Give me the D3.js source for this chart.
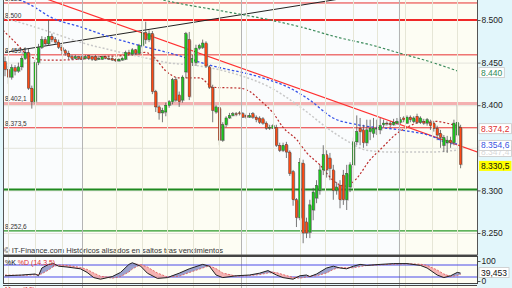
<!DOCTYPE html>
<html>
<head>
<meta charset="utf-8">
<script src="https://cdn.jsdelivr.net/npm/d3@7"></script>
<style>
body { margin: 0; background: #e2f6fb; }
svg { display: block; font-family: "Liberation Sans", Arial, sans-serif; }
</style>
</head>
<body>
<div id="chart"></div>
<script>
// candles, one per session slot
var opens = [8.451,8.442,8.433,8.444,8.440,8.445,8.455,8.462,8.420,8.404,
  8.450,8.468,8.477,8.472,8.481,8.477,8.474,8.468,8.464,8.461,
  8.457,8.455,8.457,8.457,8.455,8.458,8.457,8.457,8.454,8.454,
  8.457,8.455,8.455,8.454,8.452,8.453,8.454,8.462,8.460,8.465,
  8.461,8.470,8.485,8.477,8.484,8.416,8.398,8.391,8.392,8.400,
  8.404,8.430,8.412,8.406,8.439,8.477,8.450,8.450,8.467,8.468,
  8.473,8.445,8.421,8.392,8.397,8.359,8.377,8.385,8.388,8.390,
  8.391,8.390,8.388,8.386,8.390,8.386,8.385,8.384,8.379,8.373,
  8.373,8.374,8.353,8.347,8.354,8.345,8.322,8.289,8.268,8.332,
  8.263,8.251,8.277,8.291,8.300,8.324,8.342,8.338,8.324,8.300,
  8.306,8.318,8.289,8.304,8.330,8.357,8.373,8.371,8.356,8.369,
  8.367,8.372,8.371,8.377,8.379,8.379,8.377,8.379,8.380,8.385,
  8.379,8.386,8.381,8.387,8.380,8.381,8.379,8.380,8.379,8.373,
  8.367,8.353,8.356,8.359,8.356,8.365,8.374];
var highs = [8.457,8.446,8.448,8.447,8.450,8.458,8.468,8.466,8.423,8.453,
  8.472,8.481,8.480,8.500,8.484,8.480,8.477,8.471,8.466,8.464,
  8.459,8.459,8.458,8.458,8.459,8.459,8.458,8.459,8.458,8.458,
  8.458,8.458,8.457,8.455,8.455,8.457,8.464,8.465,8.467,8.466,
  8.472,8.500,8.498,8.488,8.487,8.418,8.400,8.397,8.403,8.406,
  8.432,8.433,8.416,8.435,8.486,8.486,8.459,8.471,8.472,8.477,
  8.475,8.447,8.424,8.400,8.399,8.380,8.387,8.391,8.392,8.392,
  8.393,8.392,8.390,8.391,8.392,8.388,8.387,8.386,8.381,8.377,
  8.378,8.377,8.356,8.356,8.357,8.347,8.324,8.291,8.338,8.336,
  8.268,8.289,8.303,8.312,8.330,8.353,8.347,8.344,8.330,8.310,
  8.312,8.324,8.330,8.333,8.362,8.388,8.385,8.377,8.383,8.383,
  8.385,8.383,8.385,8.383,8.381,8.381,8.384,8.385,8.386,8.387,
  8.388,8.388,8.387,8.390,8.387,8.384,8.385,8.383,8.381,8.376,
  8.371,8.365,8.364,8.363,8.383,8.400,8.377];
var lows = [8.434,8.425,8.430,8.435,8.438,8.441,8.453,8.418,8.396,8.401,
  8.447,8.466,8.470,8.470,8.474,8.472,8.466,8.460,8.458,8.454,
  8.453,8.454,8.453,8.453,8.454,8.453,8.452,8.452,8.453,8.453,
  8.454,8.453,8.452,8.451,8.451,8.452,8.453,8.459,8.458,8.459,
  8.459,8.467,8.472,8.474,8.413,8.392,8.383,8.380,8.387,8.397,
  8.401,8.404,8.398,8.403,8.432,8.406,8.446,8.446,8.465,8.466,
  8.444,8.419,8.380,8.390,8.353,8.357,8.374,8.384,8.387,8.387,
  8.388,8.385,8.384,8.385,8.384,8.380,8.378,8.377,8.371,8.371,
  8.372,8.351,8.345,8.345,8.338,8.317,8.282,8.257,8.265,8.238,
  8.244,8.244,8.265,8.285,8.295,8.318,8.315,8.312,8.289,8.295,
  8.279,8.283,8.277,8.298,8.326,8.353,8.353,8.350,8.352,8.359,
  8.362,8.365,8.366,8.374,8.376,8.374,8.376,8.377,8.378,8.380,
  8.378,8.380,8.379,8.378,8.378,8.377,8.376,8.371,8.369,8.359,
  8.350,8.345,8.344,8.350,8.353,8.363,8.326];
var closes = [8.442,8.433,8.444,8.440,8.445,8.455,8.462,8.420,8.404,8.450,
  8.468,8.477,8.472,8.481,8.477,8.474,8.468,8.464,8.461,8.457,
  8.455,8.457,8.455,8.454,8.457,8.455,8.454,8.453,8.455,8.457,
  8.455,8.454,8.453,8.452,8.454,8.455,8.462,8.460,8.465,8.461,
  8.470,8.485,8.477,8.484,8.416,8.398,8.391,8.394,8.400,8.404,
  8.430,8.406,8.404,8.433,8.484,8.410,8.455,8.467,8.470,8.473,
  8.446,8.421,8.394,8.398,8.359,8.377,8.385,8.388,8.390,8.389,
  8.390,8.386,8.386,8.388,8.386,8.383,8.380,8.379,8.373,8.374,
  8.376,8.353,8.347,8.353,8.345,8.320,8.289,8.268,8.333,8.250,
  8.250,8.283,8.298,8.306,8.324,8.342,8.324,8.326,8.300,8.304,
  8.289,8.289,8.320,8.330,8.357,8.369,8.369,8.356,8.371,8.373,
  8.373,8.373,8.376,8.379,8.378,8.377,8.380,8.381,8.383,8.383,
  8.386,8.383,8.385,8.380,8.385,8.379,8.383,8.376,8.373,8.365,
  8.362,8.362,8.359,8.356,8.379,8.380,8.3305];

// moving averages, read as [slot, price] points
var maRed = [[-0.6,8.488],[3,8.474],[7.5,8.457],[12,8.453],[16.4,8.453],[22.4,8.454],[28.4,8.457],
  [34.3,8.458],[38.8,8.460],[41.8,8.462],[44.8,8.455],[47.8,8.441],[52.2,8.432],[58.2,8.432],
  [62.1,8.421],[70.1,8.420],[73.1,8.416],[76.1,8.406],[80,8.391],[83,8.374],[87.2,8.359],
  [90.1,8.344],[94,8.330],[97.9,8.312],[101.5,8.305],[104.5,8.312],[109,8.336],[112.8,8.351],
  [116.4,8.365],[120,8.374],[123.9,8.380],[128.4,8.381],[132.8,8.378],[135.8,8.3742]];
var maGray = [[-0.6,8.502],[3.6,8.498],[13.4,8.486],[22.4,8.474],[31.3,8.465],[40.3,8.457],
  [48.4,8.450],[58.2,8.446],[69.3,8.436],[79.1,8.421],[88.1,8.398],[97,8.371],[103,8.356],
  [108,8.347],[115,8.345],[126.9,8.345],[135.2,8.3474]];
var maBlue = [[3,8.526],[7.5,8.518],[14.3,8.502],[22.4,8.492],[31.3,8.480],[40.3,8.470],
  [49.3,8.461],[62.1,8.446],[76.1,8.433],[85.1,8.420],[91,8.406],[97.9,8.385],[105.4,8.377],
  [117.9,8.371],[127.8,8.363],[131.9,8.356],[135.2,8.3546]];
var maGreen = [[43.3,8.527],[51.3,8.520],[64.2,8.511],[79.1,8.500],[88.1,8.492],[100,8.479],
  [109,8.471],[117.9,8.461],[126.9,8.451],[135.2,8.440]];

// drawn trend lines
var trendRed = [[0,8.542],[141,8.345]];
var trendBlack = [[0,8.462],[110,8.531]];

// horizontal levels
var levelValues = [8.520, 8.500, 8.4591, 8.4021, 8.3735, 8.301, 8.2526];
var levelLabels = ["8.520", "8.500", "8.459,1", "8.402,1", "8.373,5", "", "8.252,6"];
var levelKinds = ["red", "redBold", "red", "pink", "red", "greenBold", "green"];

var priceTicks = [8.25, 8.30, 8.40, 8.45, 8.50];
var gridPrices = [8.25, 8.30, 8.35, 8.40, 8.45, 8.50];
var gridSlots = [1, 9, 17, 33, 41, 48.5, 56, 64, 72, 80, 88, 95.5, 104, 111, 119.5, 127.5, 135];
var monthSlots = [23, 70.5, 117.5];

// stochastic %K %D
var stochIdx = [0,5,9,10,11,13,14.5,16,18.5,22.5,24.5,26.5,28.5,32,34.5,37,38,40.5,42.5,45.5,
  48.5,52,55,59,61,63,65,69,73,76,78.5,81,83,86,88,90,91,93,96,98,100,102,104,106,108,
  112,116,120,124,126,129,131,133,135,136];
var stochK = [26,30,35,26,65,83,87,74,70,61,43,17,9,22,43,83,91,74,39,13,
  17,39,61,83,74,30,17,26,30,39,52,30,17,9,26,30,22,35,65,74,65,61,74,83,78,
  83,87,87,78,65,30,17,26,43,39.453];
var stochD = [30,28,31,32,36,55,72,80,78,68,58,40,24,14,22,45,60,82,70,40,
  20,24,42,65,76,62,40,24,27,32,40,42,32,18,14,20,24,26,40,58,68,66,66,72,78,
  81,84,86,84,78,55,35,22,28,33];

var W = 512, H = 288;
var plot = {left: 3, right: 477, top: 0, bottom: 255};
var sp = {top: 257, bottom: 284};

var x = d3.scaleLinear().domain([0, 136]).range([5, 460.6]);
var y = d3.scaleLinear().domain([8.25, 8.5]).range([233, 20]);
var ys = d3.scaleLinear().domain([0, 100]).range([281, 261]);

var svg = d3.select("#chart").append("svg").attr("width", W).attr("height", H);
svg.append("rect").attr("width", W).attr("height", H).attr("fill", "#e2f6fb");

var defs = svg.append("defs");
defs.append("clipPath").attr("id", "clipMain").append("rect")
  .attr("x", plot.left).attr("y", plot.top)
  .attr("width", plot.right - plot.left).attr("height", plot.bottom - plot.top);
defs.append("clipPath").attr("id", "clipStoch").append("rect")
  .attr("x", plot.left).attr("y", sp.top)
  .attr("width", plot.right - plot.left).attr("height", sp.bottom - sp.top);

// alternating month shading
var edges = [plot.left].concat(monthSlots.map(x)).concat([plot.right]);
[[plot.top, plot.bottom], [sp.top, sp.bottom], [sp.bottom + 1, H]].forEach(function(r) {
  for (var k = 0; k < edges.length - 1; k++) {
    svg.append("rect")
      .attr("x", edges[k]).attr("y", r[0])
      .attr("width", edges[k + 1] - edges[k]).attr("height", r[1] - r[0])
      .attr("fill", k % 2 ? "#fdfdf3" : "#fafcfd");
  }
});

var main = svg.append("g").attr("clip-path", "url(#clipMain)");

// grid
main.selectAll(".hg").data(gridPrices).enter().append("line")
  .attr("x1", plot.left).attr("x2", plot.right)
  .attr("y1", function(d) { return y(d) + 0.5; }).attr("y2", function(d) { return y(d) + 0.5; })
  .attr("stroke", "#e4e4dc").attr("stroke-width", 1);
svg.selectAll(".vg").data(gridSlots).enter().append("line")
  .attr("x1", function(d) { return Math.round(x(d)) + 0.5; })
  .attr("x2", function(d) { return Math.round(x(d)) + 0.5; })
  .attr("y1", plot.top).attr("y2", H)
  .attr("stroke", "#e6e6d6").attr("stroke-width", 1);
svg.selectAll(".vm").data(monthSlots).enter().append("line")
  .attr("x1", function(d) { return Math.round(x(d)) + 0.5; })
  .attr("x2", function(d) { return Math.round(x(d)) + 0.5; })
  .attr("y1", plot.top).attr("y2", H)
  .attr("stroke", "#b4b4b4").attr("stroke-width", 1);

// horizontal levels
var levelStyle = {
  red: {c: "#e83030", w: 1},
  redBold: {c: "#f02828", w: 2},
  pink: {c: "#f4b0b0", w: 3},
  greenBold: {c: "#1f8a1f", w: 2},
  green: {c: "#2a9a2a", w: 1.3}
};
levelValues.forEach(function(v, i) {
  var s = levelStyle[levelKinds[i]];
  main.append("line")
    .attr("x1", plot.left).attr("x2", plot.right)
    .attr("y1", y(v)).attr("y2", y(v))
    .attr("stroke", s.c).attr("stroke-width", s.w);
});

// trend lines
var tl = d3.line().x(function(d) { return x(d[0]); }).y(function(d) { return y(d[1]); });
main.append("path").attr("d", tl(trendBlack)).attr("fill", "none")
  .attr("stroke", "#222").attr("stroke-width", 1);
main.append("path").attr("d", tl(trendRed)).attr("fill", "none")
  .attr("stroke", "#ff3030").attr("stroke-width", 1.2);

// moving averages
var ml = d3.line().curve(d3.curveMonotoneX)
  .x(function(d) { return x(d[0]); }).y(function(d) { return y(d[1]); });
[[maGray, "#c8c8c8", "2,2", 1.5], [maGreen, "#3a8a5a", "2.5,2", 1.2],
 [maBlue, "#3552e8", "2.5,2", 1.3], [maRed, "#bb2a2a", "2,2", 1.2]].forEach(function(m) {
  main.append("path").attr("d", ml(m[0])).attr("fill", "none")
    .attr("stroke", m[1]).attr("stroke-dasharray", m[2]).attr("stroke-width", m[3]);
});

// candles
var idx = d3.range(closes.length);
var bw = 2.3;
var cg = main.append("g");
cg.selectAll(".wick").data(idx).enter().append("line")
  .attr("x1", function(i) { return x(i); }).attr("x2", function(i) { return x(i); })
  .attr("y1", function(i) { return y(highs[i]); }).attr("y2", function(i) { return y(lows[i]); })
  .attr("stroke", "#555").attr("stroke-width", 0.8);
cg.selectAll(".shadow").data(idx).enter().append("rect")
  .attr("x", function(i) { return x(i) - bw / 2 + 1; })
  .attr("y", function(i) { return y(Math.max(opens[i], closes[i])) + 0.8; })
  .attr("width", bw)
  .attr("height", function(i) { return Math.max(0.8, Math.abs(y(opens[i]) - y(closes[i]))); })
  .attr("fill", "#9a9a9a").attr("opacity", 0.7);
cg.selectAll(".body").data(idx).enter().append("rect")
  .attr("x", function(i) { return x(i) - bw / 2; })
  .attr("y", function(i) { return y(Math.max(opens[i], closes[i])); })
  .attr("width", bw)
  .attr("height", function(i) { return Math.max(0.8, Math.abs(y(opens[i]) - y(closes[i]))); })
  .attr("fill", function(i) { return closes[i] >= opens[i] ? "#1ec81e" : "#ff4a14"; })
  .attr("stroke", "#333").attr("stroke-width", 0.4);

// left level labels
levelValues.forEach(function(v, i) {
  if (!levelLabels[i]) return;
  main.append("text").attr("x", 5).attr("y", y(v) - 2)
    .attr("font-size", 6.5).attr("fill", "#333").text(levelLabels[i]);
});

main.append("text").attr("x", 4).attr("y", 252.5)
  .attr("font-size", 7.6).attr("fill", "#333")
  .text("\u00a9 IT-Finance.com  Hist\u00f3ricos alisados en saltos tras vencimientos");

// frames
svg.append("rect").attr("x", plot.left + 0.5).attr("y", -1)
  .attr("width", plot.right - plot.left).attr("height", plot.bottom + 1)
  .attr("fill", "none").attr("stroke", "#555").attr("stroke-width", 1);

// right price axis
var ax = svg.append("g").attr("transform", "translate(" + (plot.right + 0.5) + ",0)")
  .call(d3.axisRight(y).tickValues(priceTicks).tickSize(3).tickPadding(1)
    .tickFormat(d3.format(".3f")));
ax.select(".domain").remove();
ax.selectAll("text").attr("font-size", 8.5).attr("fill", "#222")
  .attr("font-family", "Liberation Sans, Arial, sans-serif");
ax.selectAll("line").attr("stroke", "#555");

function fmt4(v) { var s = v.toFixed(4); return s.slice(0, 5) + "," + s.slice(5); }
function tag(yy, txt, color, fill) {
  var g = svg.append("g");
  var r = g.append("rect").attr("x", 479).attr("y", yy - 5).attr("height", 10)
    .attr("fill", fill).attr("stroke", fill === "#ffff00" ? "none" : "#c8c8c8").attr("stroke-width", 0.8);
  var t = g.append("text").attr("x", 481).attr("y", yy + 3)
    .attr("font-size", 8.5).attr("fill", color).text(txt);
  r.attr("width", t.node().getComputedTextLength() + 4);
}
tag(y(maGreen[maGreen.length - 1][1]) + 1.5, d3.format(".3f")(maGreen[maGreen.length - 1][1]), "#2e8b57", "#ffffff");
tag(y(maRed[maRed.length - 1][1]) + 1.5, fmt4(maRed[maRed.length - 1][1]), "#e03030", "#ffffff");
tag(y(maGray[maGray.length - 1][1]) + 1.5, fmt4(maGray[maGray.length - 1][1]), "#d8d8d8", "#ffffff");
tag(y(maBlue[maBlue.length - 1][1]) + 1.5, fmt4(maBlue[maBlue.length - 1][1]), "#3a55e0", "#ffffff");
tag(y(closes[closes.length - 1]) + 1.5, fmt4(closes[closes.length - 1]), "#111", "#ffff00");

// stochastic panel
svg.append("line").attr("x1", plot.left).attr("x2", plot.right)
  .attr("y1", sp.top - 1.5).attr("y2", sp.top - 1.5).attr("stroke", "#444");
var st = svg.append("g").attr("clip-path", "url(#clipStoch)");
[80, 20].forEach(function(v) {
  st.append("line").attr("x1", plot.left).attr("x2", plot.right)
    .attr("y1", ys(v)).attr("y2", ys(v)).attr("stroke", "#4a4ae8").attr("stroke-width", 1);
});
var sx = function(k) { return x(stochIdx[k]); };
var blueArea = d3.area().x(function(d, k) { return sx(k); })
  .y0(function(d, k) { return ys(stochD[k]); })
  .y1(function(d, k) { return ys(Math.max(stochK[k], stochD[k])); });
var pinkArea = d3.area().x(function(d, k) { return sx(k); })
  .y0(function(d, k) { return ys(stochK[k]); })
  .y1(function(d, k) { return ys(Math.max(stochK[k], stochD[k])); });
st.append("path").attr("d", blueArea(stochIdx)).attr("fill", "#8a92c6").attr("opacity", 0.85);
st.append("path").attr("d", pinkArea(stochIdx)).attr("fill", "#f3a6a6").attr("opacity", 0.85);
st.append("path").attr("d", d3.line().x(function(d, k) { return sx(k); })
    .y(function(d, k) { return ys(stochD[k]); })(stochIdx))
  .attr("fill", "none").attr("stroke", "#e05050").attr("stroke-dasharray", "2,1.5").attr("stroke-width", 0.8);
st.append("path").attr("d", d3.line().x(function(d, k) { return sx(k); })
    .y(function(d, k) { return ys(stochK[k]); })(stochIdx))
  .attr("fill", "none").attr("stroke", "#222").attr("stroke-width", 1);
var lab = st.append("text").attr("x", 5).attr("y", 265).attr("font-size", 7);
lab.append("tspan").attr("fill", "#111").text("%K ");
lab.append("tspan").attr("fill", "#e03030").text("%D (14,3,5)");

svg.append("rect").attr("x", plot.left + 0.5).attr("y", sp.top - 0.5)
  .attr("width", plot.right - plot.left).attr("height", sp.bottom - sp.top)
  .attr("fill", "none").attr("stroke", "#444").attr("stroke-width", 1);
svg.append("line").attr("x1", plot.left).attr("x2", plot.right)
  .attr("y1", sp.bottom + 1.5).attr("y2", sp.bottom + 1.5).attr("stroke", "#444");
svg.append("text").attr("x", 5).attr("y", 292).attr("font-size", 7)
  .attr("fill", "#e03030").text("Mom (10)");

var sax = svg.append("g").attr("transform", "translate(" + (plot.right + 0.5) + ",0)")
  .call(d3.axisRight(ys).tickValues([0, 100]).tickSize(3).tickPadding(1));
sax.select(".domain").remove();
sax.selectAll("text").attr("font-size", 8.5).attr("fill", "#222")
  .attr("font-family", "Liberation Sans, Arial, sans-serif");
sax.selectAll("line").attr("stroke", "#555");
tag(ys(stochK[stochK.length - 1]) - 0.5, d3.format(".3f")(stochK[stochK.length - 1]).replace(".", ","), "#111", "#ffffff");
</script>
</body>
</html>
